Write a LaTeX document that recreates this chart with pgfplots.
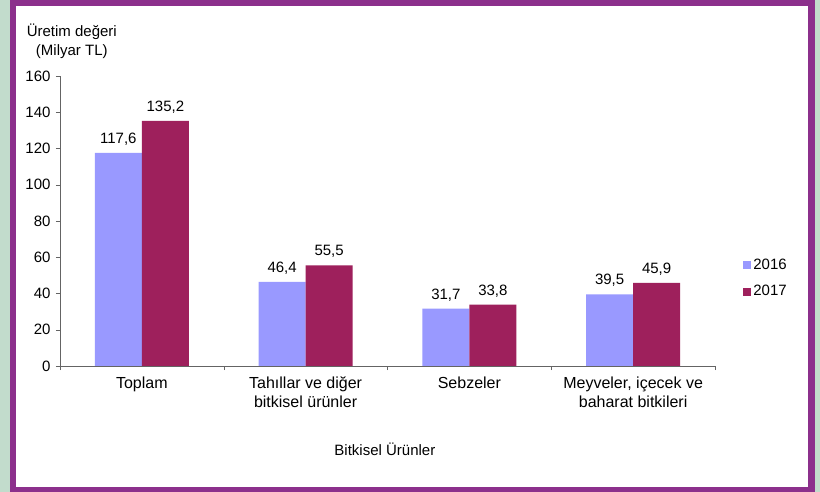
\documentclass[border=0pt]{standalone}
\usepackage{fontspec}
\setmainfont{Liberation Sans}
\usepackage{pgfplots}
\pgfplotsset{compat=1.18}
\definecolor{bgGreen}{RGB}{194,220,204}
\definecolor{framePurple}{RGB}{140,48,140}
\definecolor{c2016}{RGB}{153,153,255}
\definecolor{c2017}{RGB}{158,32,92}
\definecolor{axisGray}{RGB}{100,100,100}
\begin{document}
\begin{tikzpicture}
\useasboundingbox (0,0) rectangle (820bp,492bp);
\fill[bgGreen] (0,0) rectangle (820bp,492bp);
\fill[framePurple] (10bp,0bp) rectangle (815bp,492bp);
\fill[white] (16bp,5bp) rectangle (808bp,486bp);
\begin{axis}[
  at={(60bp,126bp)}, anchor=south west,
  scale only axis, width=655bp, height=290bp,
  ybar=0pt, bar width=47bp,
  xmin=-0.5, xmax=3.5, ymin=0, ymax=160,
  ytick={0,20,...,160},
  xtick={0,1,2,3},
  xticklabels={Toplam,{Tahıllar ve diğer\\bitkisel ürünler},Sebzeler,{Meyveler, içecek ve\\baharat bitkileri}},
  xticklabel style={align=center, font=\fontsize{16bp}{19bp}\selectfont, text=black, yshift=-3bp},
  yticklabel style={font=\fontsize{15bp}{17bp}\selectfont, text=black, xshift=-2bp},
  minor xtick={-0.5,0.5,1.5,2.5,3.5},
  major x tick style={draw=none},
  minor tick length=4bp, major tick length=4bp,
  tick align=outside,
  tick style={axisGray},
  axis x line*=bottom, axis y line*=left,
  axis line style={axisGray, -},
  /pgf/number format/assume math mode=true,
  nodes near coords,
  nodes near coords style={font=\fontsize{15bp}{17bp}\selectfont, text=black, yshift=4bp,
    /pgf/number format/.cd, fixed, fixed zerofill, precision=1, use comma, assume math mode=true},
  xlabel={Bitkisel Ürünler},
  xlabel style={at={(axis description cs:0.496,-0.286)}, anchor=center, font=\fontsize{15bp}{17bp}\selectfont},
  ylabel={Üretim değeri\\(Milyar TL)},
  ylabel style={at={(axis description cs:0.018,1.12)}, anchor=center, rotate=-90, align=center, font=\fontsize{15bp}{19bp}\selectfont},
  legend style={at={(axis description cs:1.043,0.378)}, anchor=north west, draw=none, fill=none,
    font=\fontsize{15bp}{17bp}\selectfont, row sep=11bp, inner sep=0pt,
    /tikz/every even column/.append style={column sep=2bp}},
  legend image code/.code={\fill[#1] (0bp,-4bp) rectangle (8bp,4bp);},
]
\addplot[fill=c2016, draw=none] coordinates {(0,117.6) (1,46.4) (2,31.7) (3,39.5)};
\addplot[fill=c2017, draw=none] coordinates {(0,135.2) (1,55.5) (2,33.8) (3,45.9)};
\legend{2016,2017}
\end{axis}
\end{tikzpicture}
\end{document}
